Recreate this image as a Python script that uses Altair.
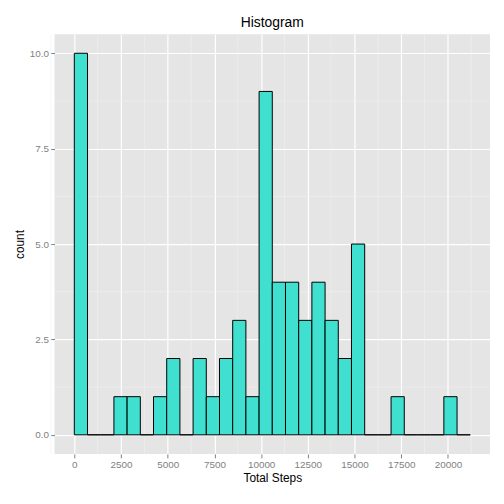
import altair as alt
import pandas as pd

binwidth = 21194 / 30
counts = [10, 0, 0, 1, 1, 0, 1, 2, 0, 2, 1, 2, 3, 1, 9, 4, 4, 3, 4, 3, 2, 5, 0, 0, 1, 0, 0, 0, 1, 0]
x_ticks = [0, 2500, 5000, 7500, 10000, 12500, 15000, 17500, 20000]
y_ticks = [0.0, 2.5, 5.0, 7.5, 10.0]
x_minor = [-1250, 1250, 3750, 6250, 8750, 11250, 13750, 16250, 18750, 21250]
y_minor = [1.25, 3.75, 6.25, 8.75]

bins = pd.DataFrame({
    "start": [i * binwidth for i in range(len(counts))],
    "end": [(i + 1) * binwidth for i in range(len(counts))],
    "count": counts,
})

xs = alt.Scale(domain=[-1060, 22254], nice=False, zero=False)
ys = alt.Scale(domain=[-0.5, 10.5], nice=False, zero=False)

vminor = alt.Chart(pd.DataFrame({"x": x_minor})).mark_rule(color="#f2f2f2", strokeWidth=0.6).encode(
    x=alt.X("x:Q", scale=xs)
)
hminor = alt.Chart(pd.DataFrame({"y": y_minor})).mark_rule(color="#f2f2f2", strokeWidth=0.6).encode(
    y=alt.Y("y:Q", scale=ys)
)

bars = alt.Chart(bins).mark_bar(color="#40E0D0", stroke="black", strokeWidth=1).encode(
    x=alt.X("start:Q", scale=xs, title="Total Steps",
            axis=alt.Axis(values=x_ticks, format="d")),
    x2="end:Q",
    y=alt.Y("count:Q", scale=ys, title="count",
            axis=alt.Axis(values=y_ticks, format=".1f")),
    y2=alt.datum(0),
)

chart = alt.layer(vminor, hminor, bars).properties(
    width=440, height=424, title="Histogram", background="white"
).configure_view(fill="#e5e5e5", stroke=None).configure_axis(
    gridColor="white", gridWidth=1.2, domain=False, tickColor="#7f7f7f", tickSize=4,
    labelColor="#7f7f7f", labelFont="Arial", labelFontSize=10,
    titleFont="Arial", titleFontSize=12, titleFontWeight="normal", titleColor="black",
    labelPadding=2, titlePadding=3,
).configure_title(font="Arial", fontSize=14, fontWeight="normal", anchor="middle", offset=4)

chart.save("out.html", embed_options={"renderer": "svg", "actions": False})
